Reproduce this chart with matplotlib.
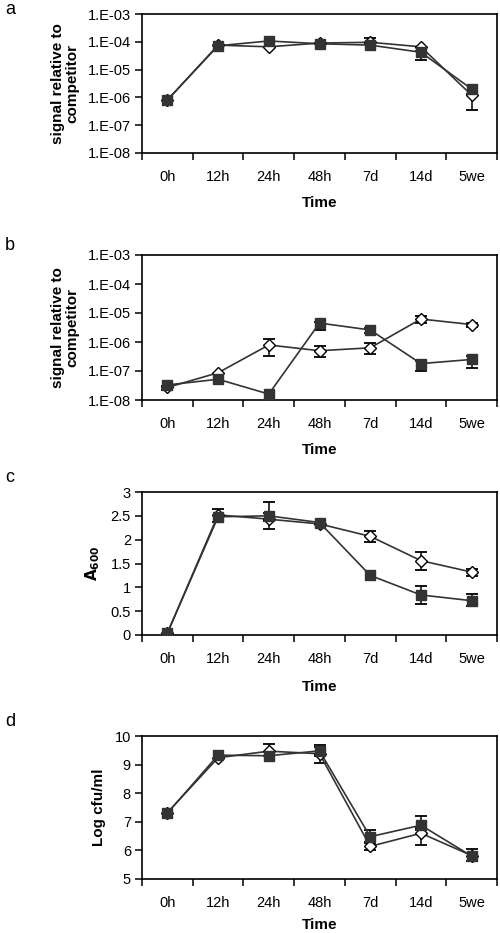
import numpy as np
import matplotlib
matplotlib.use("Agg")
import matplotlib.pyplot as plt

plt.rcParams['font.family'] = ['Liberation Sans', 'DejaVu Sans']

categories = ["0h", "12h", "24h", "48h", "7d", "14d", "5we"]

# Panel a (log scale)
a_open = [8.0e-7, 7.6e-5, 6.6e-5, 9.0e-5, 9.6e-5, 6.6e-5, 1.2e-6]
a_fill = [8.1e-7, 7.2e-5, 1.07e-4, 8.5e-5, 7.6e-5, 4.2e-5, 2.0e-6]
a_open_err = {4: (9.0e-5, 1.4e-4), 6: (3.5e-7, 1.3e-6)}
a_fill_err = {5: (2.2e-5, 4.6e-5)}

# Panel b (log scale)
b_open = [2.7e-8, 8.7e-8, 7.9e-7, 5.0e-7, 6.3e-7, 6.2e-6, 4.0e-6]
b_fill = [3.3e-8, 5.2e-8, 1.6e-8, 4.5e-6, 2.6e-6, 1.8e-7, 2.5e-7]
b_open_err = {0: (2.2e-8, 3.0e-8), 2: (3.3e-7, 1.26e-6), 3: (3.0e-7, 7.0e-7),
              4: (3.9e-7, 9.3e-7), 5: (4.6e-6, 7.6e-6), 6: (3.4e-6, 4.6e-6)}
b_fill_err = {3: (2.6e-6, 5.0e-6), 4: (2.1e-6, 3.0e-6), 5: (1.0e-7, 2.2e-7), 6: (1.25e-7, 3.3e-7)}

# Panel c (A600)
c_open = [0.04, 2.52, 2.43, 2.33, 2.07, 1.56, 1.32]
c_fill = [0.04, 2.48, 2.50, 2.36, 1.25, 0.84, 0.72]
c_open_err = {2: (2.23, 2.55), 4: (1.95, 2.19), 5: (1.37, 1.74), 6: (1.24, 1.39)}
c_fill_err = {1: (2.38, 2.64), 2: (2.40, 2.78), 5: (0.65, 1.03), 6: (0.60, 0.85)}

# Panel d (Log cfu/ml)
d_open = [7.32, 9.24, 9.47, 9.38, 6.14, 6.60, 5.82]
d_fill = [7.30, 9.33, 9.31, 9.48, 6.48, 6.88, 5.80]
d_open_err = {2: (9.30, 9.73), 3: (9.06, 9.60), 4: (6.01, 6.25), 5: (6.20, 6.80)}
d_fill_err = {3: (9.30, 9.70), 4: (6.30, 6.70), 5: (6.70, 7.22), 6: (5.62, 6.06)}

log_ticks = [1e-8, 1e-7, 1e-6, 1e-5, 1e-4, 1e-3]
log_ticklabels = ["1.E-08", "1.E-07", "1.E-06", "1.E-05", "1.E-04", "1.E-03"]
c_ticks = [0, 0.5, 1, 1.5, 2, 2.5, 3]
c_ticklabels = ["0", "0.5", "1", "1.5", "2", "2.5", "3"]
d_ticks = [5, 6, 7, 8, 9, 10]
d_ticklabels = ["5", "6", "7", "8", "9", "10"]

W, H = 500, 933
fig = plt.figure(figsize=(W / 100, H / 100), dpi=100)

left, right = 142, 497
panels = [
    ("a", 14, 153, a_open, a_fill, a_open_err, a_fill_err, True, log_ticks, log_ticklabels,
     "signal relative to\ncompetitor", 10, 9),
    ("b", 255, 400, b_open, b_fill, b_open_err, b_fill_err, True, log_ticks, log_ticklabels,
     "signal relative to\ncompetitor", 245, 9),
    ("c", 492, 635, c_open, c_fill, c_open_err, c_fill_err, False, c_ticks, c_ticklabels,
     r"$\mathbf{A}_{\mathbf{600}}$", 478, 10),
    ("d", 736, 879, d_open, d_fill, d_open_err, d_fill_err, False, d_ticks, d_ticklabels,
     "Log cfu/ml", 722, 6),
]

dark = "#333333"
x = np.arange(len(categories))

for (lab, top, bot, yo, yf, eo, ef, islog, ticks, ticklabels, ylabel, laby, xlpad) in panels:
    ax = fig.add_axes([left / W, 1 - bot / H, (right - left) / W, (bot - top) / H])
    if islog:
        ax.set_yscale("log")
    for vals, errs, mk, mfc, ms in [(yo, eo, "D", "white", 6.3), (yf, ef, "s", dark, 7.5)]:
        idx = sorted(errs.keys())
        if idx:
            ex = x[idx]
            ey = np.array([vals[i] for i in idx])
            lo = np.array([errs[i][0] for i in idx])
            hi = np.array([errs[i][1] for i in idx])
            ax.errorbar(ex, ey, yerr=[ey - lo, hi - ey], fmt="none", ecolor="black",
                        elinewidth=1.1, capsize=4, capthick=1.3, zorder=2)
        ax.plot(x, vals, color=dark, lw=1.2, zorder=3)
        ax.plot(x, vals, ls="none", marker=mk, ms=ms, mfc=mfc, mec="black" if mfc == "white" else dark,
                mew=1.0, zorder=4 if mfc != "white" else 3.5)
    ax.set_xlim(-0.5, len(categories) - 0.5)
    ax.set_xticks(x)
    ax.set_xticklabels(categories, fontsize=10.5)
    ax.set_xticks(np.arange(-0.5, len(categories)), minor=True)
    ax.tick_params(axis="x", which="major", length=0, pad=12)
    ax.tick_params(axis="x", which="minor", length=5, width=1.1, direction="out")
    ax.set_ylim(ticks[0], ticks[-1])
    ax.set_yticks(ticks)
    ax.set_yticklabels(ticklabels, fontsize=10.5)
    ax.yaxis.set_minor_locator(matplotlib.ticker.NullLocator())
    ax.tick_params(axis="y", which="major", length=5, width=1.1, direction="out", pad=3)
    for s in ax.spines.values():
        s.set_linewidth(1.2)
    ax.set_xlabel("Time", fontsize=11, fontweight="bold", labelpad=xlpad)
    ax.set_ylabel(ylabel, fontsize=11, fontweight="bold", labelpad=6, linespacing=1.0)
    fig.text(5 / W, 1 - laby / H, lab, fontsize=13, ha="left", va="center")

fig.savefig("out.png", dpi=100)
